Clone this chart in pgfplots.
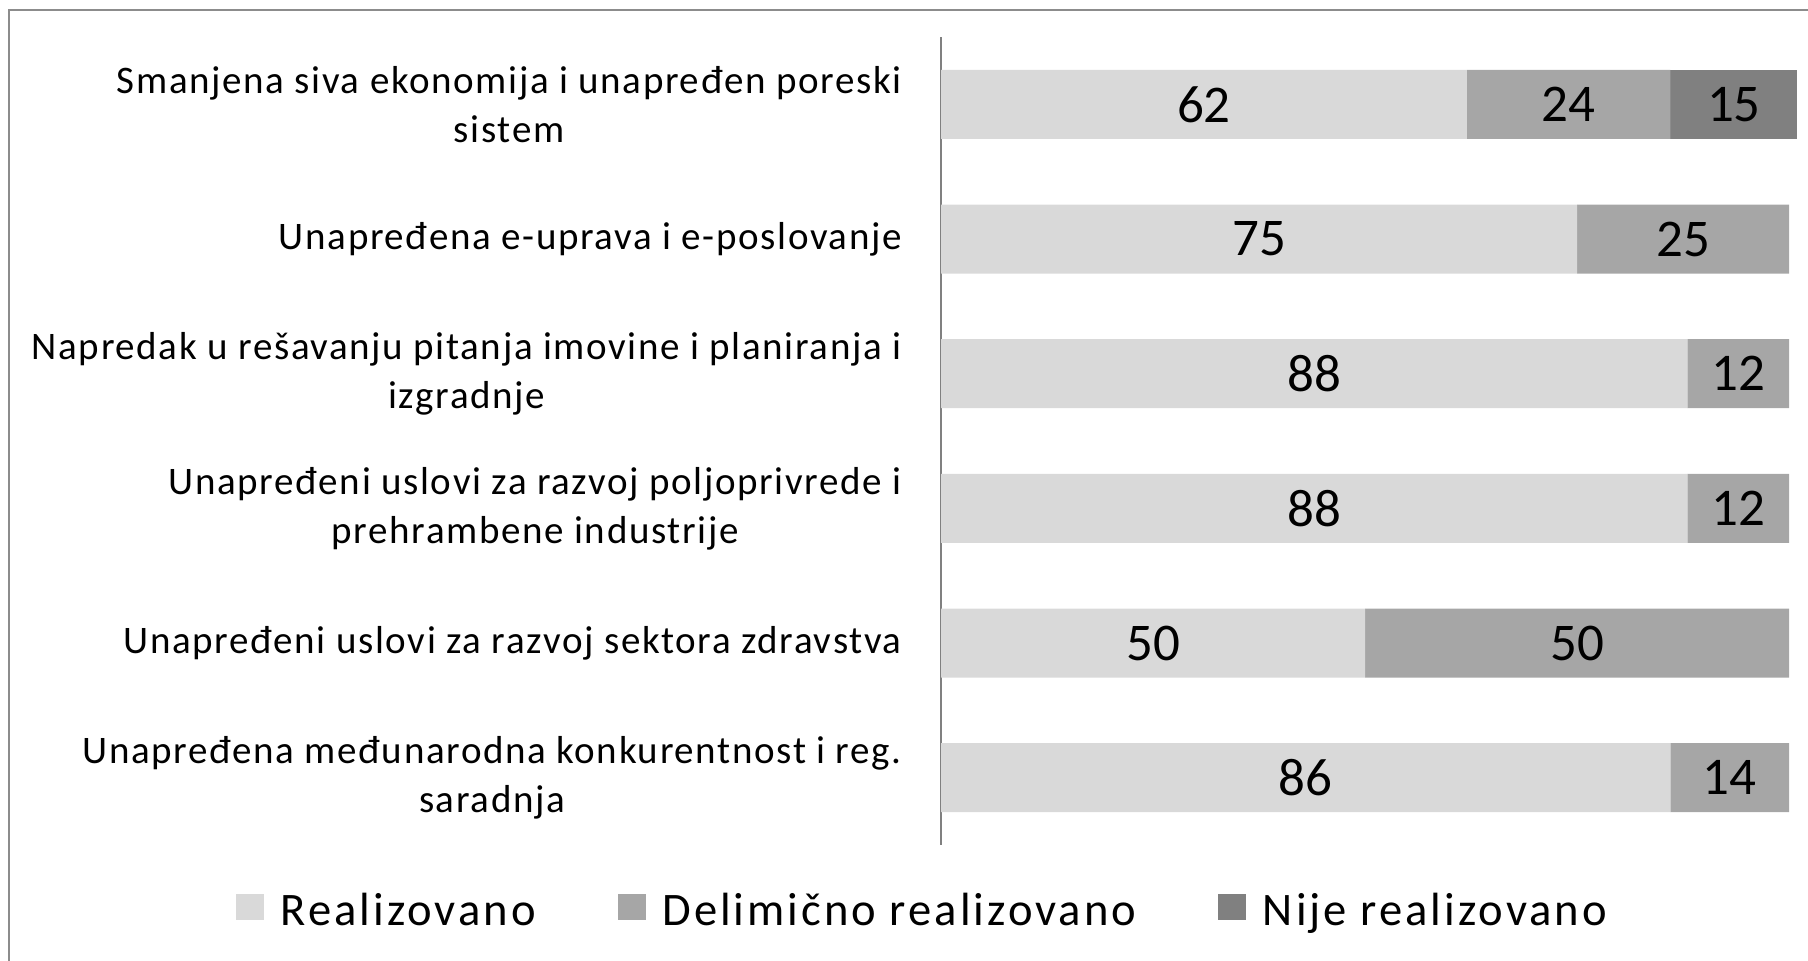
\documentclass[border=0pt]{standalone}
\usepackage{pgfplots}
\pgfplotsset{compat=1.18}
\usepackage{fontspec}
\setmainfont{Carlito}
\newfontfamily\labfont[LetterSpace=4.2]{Carlito}
\newfontfamily\legfont[LetterSpace=6.5]{Carlito}
\definecolor{cA}{HTML}{D9D9D9}
\definecolor{cB}{HTML}{A6A6A6}
\definecolor{cC}{HTML}{808080}
\definecolor{frameC}{HTML}{8C8C8C}
\begin{document}
\begin{tikzpicture}
\path[use as bounding box] (0,0) rectangle (904pt,-480pt);
\clip (0,0) rectangle (904pt,-480pt);
\draw[color=frameC, line width=1pt] (4.5pt,-490pt) -- (4.5pt,-5pt) -- (910pt,-5pt);
\pgfplotsset{common/.style={
  at={(470.5pt,-422.5pt)}, anchor=south west,
  width=424pt, height=404pt, scale only axis,
  xmin=0, xmax=100, ymin=-0.5, ymax=5.5, y dir=reverse,
  clip=false}}
\begin{axis}[common,
  xbar stacked, bar width=34.5pt,
  axis x line=none, axis y line*=left,
  y axis line style={color=gray, line width=0.6pt},
  ytick={0,...,5},
  yticklabels={{Smanjena siva ekonomija i unapređen poreski\\sistem},
    {Unapređena e-uprava i e-poslovanje},
    {Napredak u rešavanju pitanja imovine i planiranja i\\izgradnje},
    {Unapređeni uslovi za razvoj poljoprivrede i\\prehrambene industrije},
    {Unapređeni uslovi za razvoj sektora zdravstva},
    {Unapređena međunarodna konkurentnost i reg.\\saradnja}},
  major tick length=0pt,
  yticklabel style={align=center, font=\labfont\fontsize{19.5}{24.5}\selectfont, inner sep=0pt, xshift=-19.5pt},
  legend columns=3,
  legend style={at={(-0.0206,-0.0817)}, anchor=center, draw=none, fill=none,
    font=\legfont\fontsize{23.3}{28}\selectfont,
    /tikz/every odd column/.append style={column sep=6.3pt},
    /tikz/every even column/.append style={column sep=39pt}},
  legend image code/.code={\fill[#1] (0pt,-4.5pt) rectangle (14pt,8.5pt);},
]
\addplot[fill=cA, draw=none] coordinates {(62,0) (75,1) (88,2) (88,3) (50,4) (86,5)};
\addplot[fill=cB, draw=none] coordinates {(24,0) (25,1) (12,2) (12,3) (50,4) (14,5)};
\addplot[fill=cC, draw=none] coordinates {(15,0) (0,1) (0,2) (0,3) (0,4) (0,5)};
\legend{Realizovano, Delimično realizovano, Nije realizovano}
\end{axis}
\begin{axis}[common, hide axis]
\addplot[draw=none, mark=none, nodes near coords, point meta=explicit symbolic,
  nodes near coords align=center,
  every node near coord/.append style={font=\fontsize{26.5}{30}\selectfont, text=black}]
  coordinates {(31,0)[62] (74,0)[24] (93.5,0)[15]
    (37.5,1)[75] (87.5,1)[25]
    (44,2)[88] (94,2)[12]
    (44,3)[88] (94,3)[12]
    (25,4)[50] (75,4)[50]
    (43,5)[86] (93,5)[14]};
\end{axis}
\end{tikzpicture}
\end{document}
